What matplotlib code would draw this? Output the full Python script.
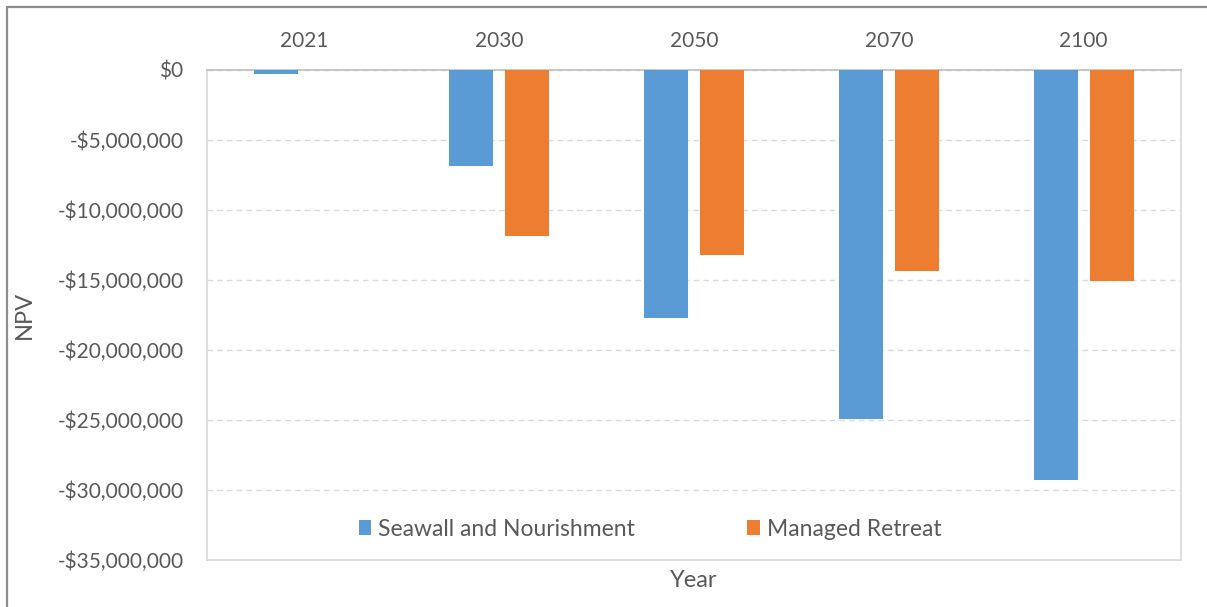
import matplotlib.pyplot as plt
from matplotlib.ticker import FuncFormatter
from matplotlib.patches import Rectangle
import numpy as np

# Data (NPV in dollars)
years = ['2021', '2030', '2050', '2070', '2100']
seawall = [-300000, -6880000, -17690000, -24950000, -29300000]
retreat = [0, -11860000, -13200000, -14360000, -15070000]

blue = '#5B9BD5'
orange = '#ED7D31'
text_col = '#595959'
grid_col = '#D9D9D9'

plt.rcParams['font.family'] = ['Lato', 'DejaVu Sans']

W, H = 1207, 607
fig = plt.figure(figsize=(W / 100, H / 100), dpi=100)
ax = fig.add_axes([207 / W, 1 - 560 / H, (1181 - 207) / W, (560 - 70) / H])

x = np.arange(len(years))
bw = 0.226
off = 0.144
ax.bar(x - off, seawall, bw, color=blue, label='Seawall and Nourishment', zorder=3)
ax.bar(x + off, retreat, bw, color=orange, label='Managed Retreat', zorder=3)

ax.set_xlim(-0.5, len(years) - 0.5)
ax.set_ylim(-35000000, 0)
ax.set_yticks(np.arange(-35000000, 1, 5000000))

def money(v, pos):
    v = int(round(v))
    if v == 0:
        return '$0'
    return '-${:,}'.format(abs(v))

ax.yaxis.set_major_formatter(FuncFormatter(money))
ax.set_xticks(x)
ax.set_xticklabels(years)
ax.xaxis.tick_top()
ax.tick_params(axis='both', length=0, labelsize=15, colors=text_col)
ax.tick_params(axis='x', pad=14)
ax.tick_params(axis='y', pad=17)

ax.yaxis.grid(True, color=grid_col, linestyle=(0, (4, 3)), linewidth=1, zorder=0)
for s in ax.spines.values():
    s.set_color(grid_col)
    s.set_linewidth(1.2)
ax.spines['top'].set_color('#BFBFBF')

ax.set_ylabel('NPV', fontsize=17, color=text_col)
ax.yaxis.set_label_coords(-0.177, 0.5)
ax.set_xlabel('Year', fontsize=17, color=text_col, labelpad=7)

leg = ax.legend(loc='center', bbox_to_anchor=((650 - 207) / (1181 - 207), (560 - 529) / 490),
                ncol=2, frameon=False, fontsize=16.5, handlelength=0.55, handleheight=0.65,
                handletextpad=0.3, columnspacing=4.9)
for t in leg.get_texts():
    t.set_color(text_col)

# outer chart border
fig.patches.append(Rectangle((7 / W, -0.1), 1.2, 1 - 7 / H + 0.1, transform=fig.transFigure,
                             fill=False, edgecolor='#8C8C8C', linewidth=1.6))

fig.savefig('out.png', dpi=100)
